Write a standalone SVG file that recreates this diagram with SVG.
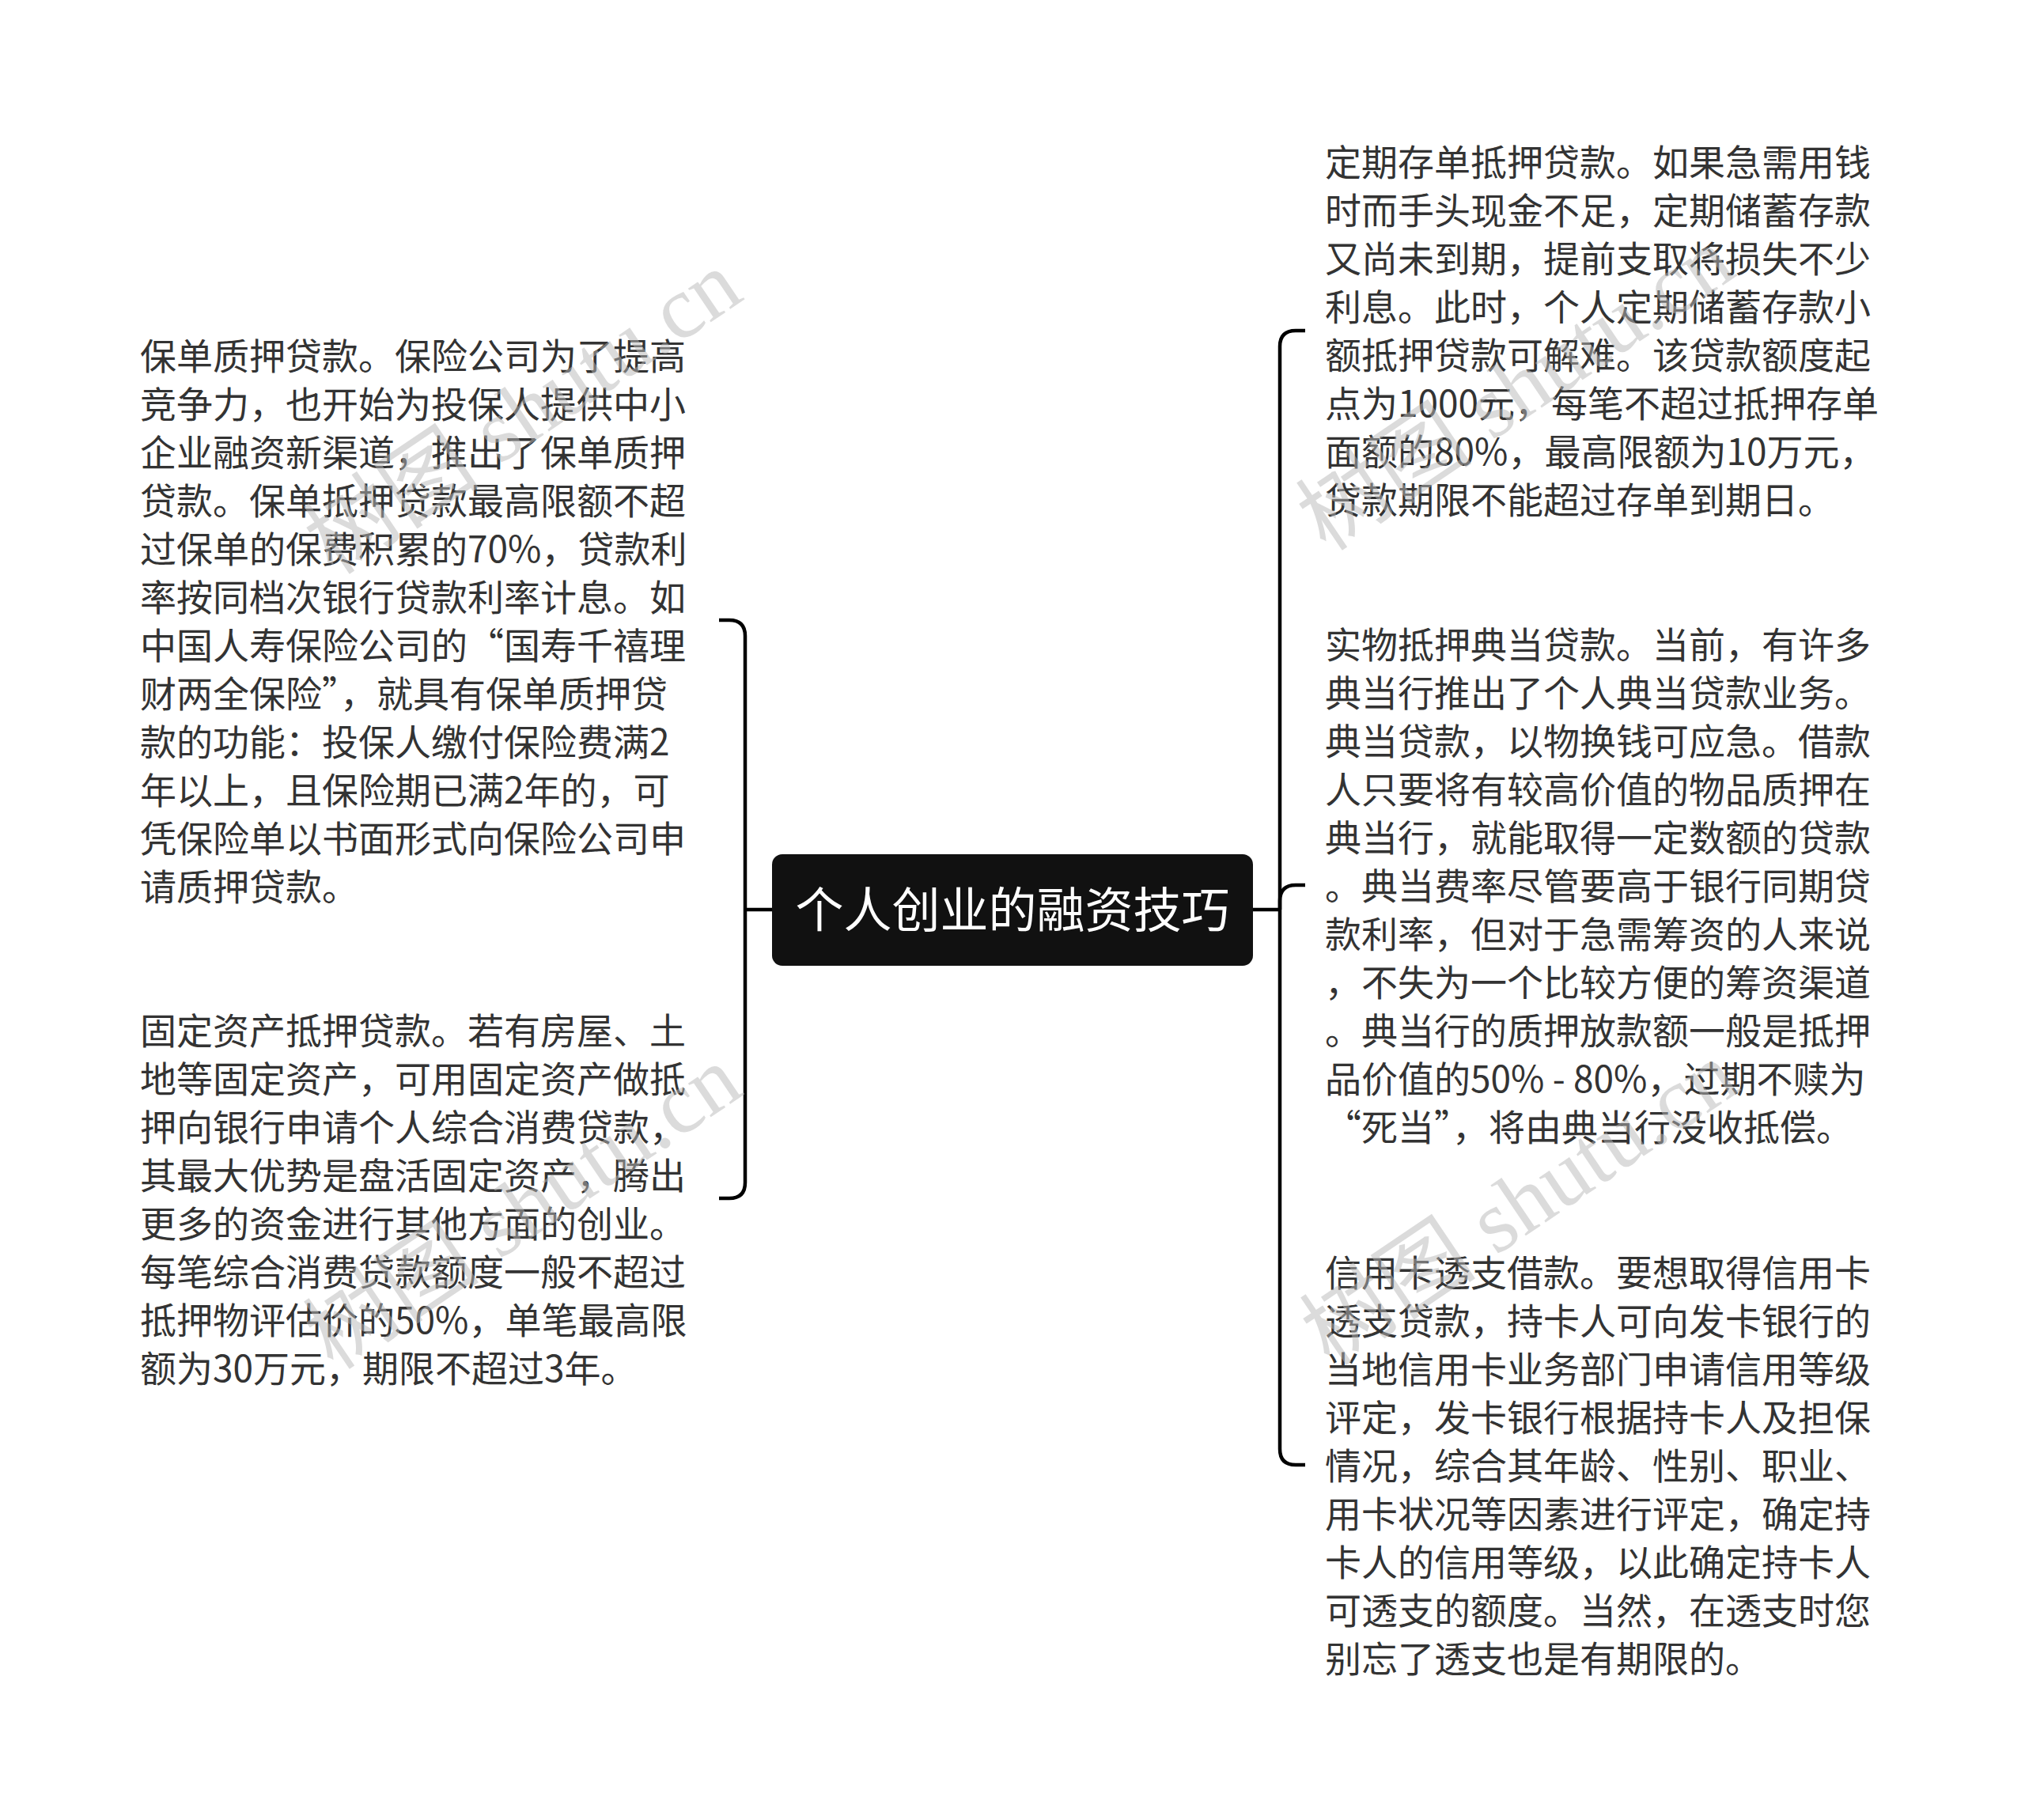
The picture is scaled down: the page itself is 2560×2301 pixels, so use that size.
<svg xmlns="http://www.w3.org/2000/svg" width="2560" height="2301" viewBox="0 0 2560 2301">
<style>
.bg{fill:#ffffff}
.conn{fill:none;stroke:#000000;stroke-width:4.5;stroke-linecap:butt}
.root-box{fill:#111111}
.root-text{font-family:"Noto Sans CJK SC","Noto Sans",sans-serif;font-size:61px;fill:#ffffff}
.leaf{font-family:"Noto Sans CJK SC","Noto Sans",sans-serif;font-size:46px;fill:#333333}
.wm{font-family:"Liberation Serif","Noto Sans CJK SC",serif;font-size:112px;fill:#b8b8b8;fill-opacity:0.5}
</style>
<rect class="bg" x="0" y="0" width="2560" height="2301"/>

<g id="connectors">
  <path class="conn" d="M942 1150 H976"/>
  <path class="conn" d="M909 784 H922 Q942 784 942 804 V1495 Q942 1515 922 1515 H909"/>
  <path class="conn" d="M1584 1150 H1618"/>
  <path class="conn" d="M1650 418 H1638 Q1618 418 1618 438 V1832 Q1618 1852 1638 1852 H1650"/>
  <path class="conn" d="M1618 1150 V1139 Q1618 1119 1638 1119 H1650"/>
</g>

<g id="root">
  <rect class="root-box" x="976" y="1080" width="608" height="141" rx="13" ry="13"/>
  <text class="root-text" x="1280" y="1173" text-anchor="middle">个人创业的融资技巧</text>
</g>

<g id="node-left-1">
  <text class="leaf" x="177" y="466.5">
    <tspan x="177" y="466.5">保单质押贷款。保险公司为了提高</tspan>
    <tspan x="177" dy="61">竞争力，也开始为投保人提供中小</tspan>
    <tspan x="177" dy="61">企业融资新渠道，推出了保单质押</tspan>
    <tspan x="177" dy="61">贷款。保单抵押贷款最高限额不超</tspan>
    <tspan x="177" dy="61">过保单的保费积累的70%，贷款利</tspan>
    <tspan x="177" dy="61">率按同档次银行贷款利率计息。如</tspan>
    <tspan x="177" dy="61">中国人寿保险公司的“国寿千禧理</tspan>
    <tspan x="177" dy="61">财两全保险”，就具有保单质押贷</tspan>
    <tspan x="177" dy="61">款的功能：投保人缴付保险费满2</tspan>
    <tspan x="177" dy="61">年以上，且保险期已满2年的，可</tspan>
    <tspan x="177" dy="61">凭保险单以书面形式向保险公司申</tspan>
    <tspan x="177" dy="61">请质押贷款。</tspan>
  </text>
</g>

<g id="node-left-2">
  <text class="leaf" x="177" y="1320">
    <tspan x="177" y="1320">固定资产抵押贷款。若有房屋、土</tspan>
    <tspan x="177" dy="61">地等固定资产，可用固定资产做抵</tspan>
    <tspan x="177" dy="61">押向银行申请个人综合消费贷款，</tspan>
    <tspan x="177" dy="61">其最大优势是盘活固定资产，腾出</tspan>
    <tspan x="177" dy="61">更多的资金进行其他方面的创业。</tspan>
    <tspan x="177" dy="61">每笔综合消费贷款额度一般不超过</tspan>
    <tspan x="177" dy="61">抵押物评估价的50%，单笔最高限</tspan>
    <tspan x="177" dy="61">额为30万元，期限不超过3年。</tspan>
  </text>
</g>

<g id="node-right-1">
  <text class="leaf" x="1675" y="222">
    <tspan x="1675" y="222">定期存单抵押贷款。如果急需用钱</tspan>
    <tspan x="1675" dy="61">时而手头现金不足，定期储蓄存款</tspan>
    <tspan x="1675" dy="61">又尚未到期，提前支取将损失不少</tspan>
    <tspan x="1675" dy="61">利息。此时，个人定期储蓄存款小</tspan>
    <tspan x="1675" dy="61">额抵押贷款可解难。该贷款额度起</tspan>
    <tspan x="1675" dy="61">点为1000元，每笔不超过抵押存单</tspan>
    <tspan x="1675" dy="61">面额的80%，最高限额为10万元，</tspan>
    <tspan x="1675" dy="61">贷款期限不能超过存单到期日。</tspan>
  </text>
</g>

<g id="node-right-2">
  <text class="leaf" x="1675" y="831.5">
    <tspan x="1675" y="831.5">实物抵押典当贷款。当前，有许多</tspan>
    <tspan x="1675" dy="61">典当行推出了个人典当贷款业务。</tspan>
    <tspan x="1675" dy="61">典当贷款，以物换钱可应急。借款</tspan>
    <tspan x="1675" dy="61">人只要将有较高价值的物品质押在</tspan>
    <tspan x="1675" dy="61">典当行，就能取得一定数额的贷款</tspan>
    <tspan x="1675" dy="61">。典当费率尽管要高于银行同期贷</tspan>
    <tspan x="1675" dy="61">款利率，但对于急需筹资的人来说</tspan>
    <tspan x="1675" dy="61">，不失为一个比较方便的筹资渠道</tspan>
    <tspan x="1675" dy="61">。典当行的质押放款额一般是抵押</tspan>
    <tspan x="1675" dy="61">品价值的50% - 80%，过期不赎为</tspan>
    <tspan x="1675" dy="61">“死当”，将由典当行没收抵偿。</tspan>
  </text>
</g>

<g id="node-right-3">
  <text class="leaf" x="1675" y="1625.5">
    <tspan x="1675" y="1625.5">信用卡透支借款。要想取得信用卡</tspan>
    <tspan x="1675" dy="61">透支贷款，持卡人可向发卡银行的</tspan>
    <tspan x="1675" dy="61">当地信用卡业务部门申请信用等级</tspan>
    <tspan x="1675" dy="61">评定，发卡银行根据持卡人及担保</tspan>
    <tspan x="1675" dy="61">情况，综合其年龄、性别、职业、</tspan>
    <tspan x="1675" dy="61">用卡状况等因素进行评定，确定持</tspan>
    <tspan x="1675" dy="61">卡人的信用等级，以此确定持卡人</tspan>
    <tspan x="1675" dy="61">可透支的额度。当然，在透支时您</tspan>
    <tspan x="1675" dy="61">别忘了透支也是有期限的。</tspan>
  </text>
</g>

<g id="watermarks">
  <text class="wm" x="660" y="560" text-anchor="middle" transform="rotate(-34 660 520)">树图 shutu.cn</text>
  <text class="wm" x="1915" y="530" text-anchor="middle" transform="rotate(-34 1915 490)">树图 shutu.cn</text>
  <text class="wm" x="660" y="1565" text-anchor="middle" transform="rotate(-34 660 1525)">树图 shutu.cn</text>
  <text class="wm" x="1920" y="1560" text-anchor="middle" transform="rotate(-34 1920 1520)">树图 shutu.cn</text>
</g>
</svg>
